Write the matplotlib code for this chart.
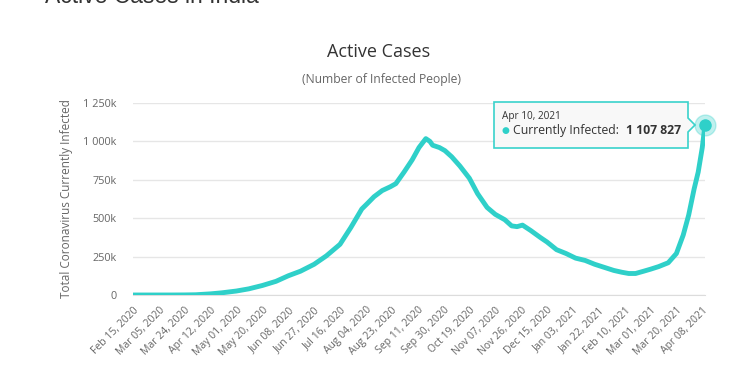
import matplotlib
matplotlib.use("Agg")
import matplotlib.pyplot as plt
import matplotlib.dates as mdates
from matplotlib.patches import Polygon
import pandas as pd
import numpy as np

plt.rcParams['font.family'] = ['Open Sans', 'DejaVu Sans']

# active cases in India (thousands)
dates = ["2020-02-15", "2020-03-01", "2020-03-15", "2020-03-24", "2020-04-01",
         "2020-04-12", "2020-04-20", "2020-05-01", "2020-05-10", "2020-05-20",
         "2020-05-30", "2020-06-08", "2020-06-17", "2020-06-27", "2020-07-06",
         "2020-07-16", "2020-07-24", "2020-08-01", "2020-08-05", "2020-08-10",
         "2020-08-16", "2020-08-22", "2020-08-26", "2020-09-01", "2020-09-07",
         "2020-09-12", "2020-09-17", "2020-09-20", "2020-09-22", "2020-09-27",
         "2020-10-01", "2020-10-06", "2020-10-12", "2020-10-19", "2020-10-25",
         "2020-11-01", "2020-11-07", "2020-11-14", "2020-11-19", "2020-11-23",
         "2020-11-27", "2020-12-03", "2020-12-10", "2020-12-15", "2020-12-22",
         "2020-12-29", "2021-01-05", "2021-01-12", "2021-01-19", "2021-01-26",
         "2021-02-02", "2021-02-08", "2021-02-13", "2021-02-18", "2021-02-24",
         "2021-03-01", "2021-03-07", "2021-03-14", "2021-03-20", "2021-03-25",
         "2021-03-29", "2021-04-02", "2021-04-05", "2021-04-08", "2021-04-10"]
active_k = [0.003, 0.003, 0.1, 0.5, 1.6,
            7.5, 14, 26, 40, 62,
            89, 125, 155, 200, 255,
            330, 440, 560, 595, 640,
            680, 705, 725, 800, 880,
            960, 1018, 1000, 975, 960,
            940, 900, 840, 760, 660,
            570, 525, 490, 450, 445,
            455, 420, 375, 345, 295,
            270, 240, 225, 200, 180,
            160, 148, 140, 140, 155,
            168, 185, 210, 270, 390,
            520, 690, 800, 960, 1107.827]

yticks = [0, 250, 500, 750, 1000, 1250]
ytick_labels = ["0", "250k", "500k", "750k", "1 000k", "1 250k"]

x = pd.to_datetime(dates)
y = np.array(active_k) * 1000

teal = "#2fd0c9"
grey = "#666666"

fig = plt.figure(figsize=(7.5, 3.75), dpi=100)
ax = fig.add_axes([133/750, 1 - 295/375, 572/750, 192/375])

ax.plot(x, y, color=teal, lw=3.5, solid_capstyle="round", solid_joinstyle="round", zorder=3)
ax.plot(x[-1], y[-1], "o", color=teal, ms=15, alpha=0.3, zorder=4, clip_on=False)
ax.plot(x[-1], y[-1], "o", color=teal, ms=8, zorder=5, clip_on=False)

ax.set_xlim(x[0], x[-1])
ax.set_ylim(0, 1250000)
ax.set_yticks([v * 1000 for v in yticks])
ax.set_yticklabels(ytick_labels)
ax.yaxis.grid(True, color="#e6e6e6", lw=1)
ax.set_axisbelow(True)

xt = pd.date_range("2020-02-15", periods=23, freq="19D")
ax.set_xticks(xt)
ax.set_xticklabels([d.strftime("%b %d, %Y") for d in xt], rotation=45, ha="right",
                   rotation_mode="anchor", fontsize=7.5, color=grey)
ax.tick_params(axis="x", length=0, pad=7)
ax.tick_params(axis="y", length=0, labelsize=7.8, labelcolor=grey, pad=12)

for s in ["top", "right", "left"]:
    ax.spines[s].set_visible(False)
ax.spines["bottom"].set_color("#dcdcdc")

ax.set_ylabel("Total Coronavirus Currently Infected", fontsize=8.5, color=grey, labelpad=7)

fig.text(45/750, 1 - 3/375, "Active Cases in India", fontsize=16.5, color="#333333",
         va="baseline", ha="left", family=["Liberation Sans", "DejaVu Sans"])
fig.text(379/750, 1 - 52/375, "Active Cases", fontsize=13, color="#333333", ha="center", va="center")
fig.text(382/750, 1 - 80/375, "(Number of Infected People)", fontsize=8.7, color=grey,
         ha="center", va="center")

# tooltip
def fx(px):
    return px / 750
def fy(py):
    return 1 - py / 375

box = Polygon([(fx(494), fy(102)), (fx(688), fy(102)), (fx(688), fy(118)), (fx(695), fy(125)),
               (fx(688), fy(132)), (fx(688), fy(148)), (fx(494), fy(148))],
              closed=True, transform=fig.transFigure, facecolor="#f8f8f8",
              edgecolor=teal, lw=1.2, alpha=0.95, zorder=10)
fig.patches.append(box)
fig.text(fx(502), fy(116), "Apr 10, 2021", fontsize=7.2, color="#333333", va="center", zorder=11)
fig.text(fx(501), fy(131), "\u25cf", fontsize=6.5, color=teal, va="center", zorder=11)
fig.text(fx(513), fy(131), "Currently Infected:", fontsize=8.8, color="#333333", va="center", zorder=11)
fig.text(fx(681), fy(131), "1 107 827", fontsize=8.8, color="#333333", va="center", ha="right",
         fontweight="bold", zorder=11)

fig.savefig("out.png", dpi=100, facecolor="white")
